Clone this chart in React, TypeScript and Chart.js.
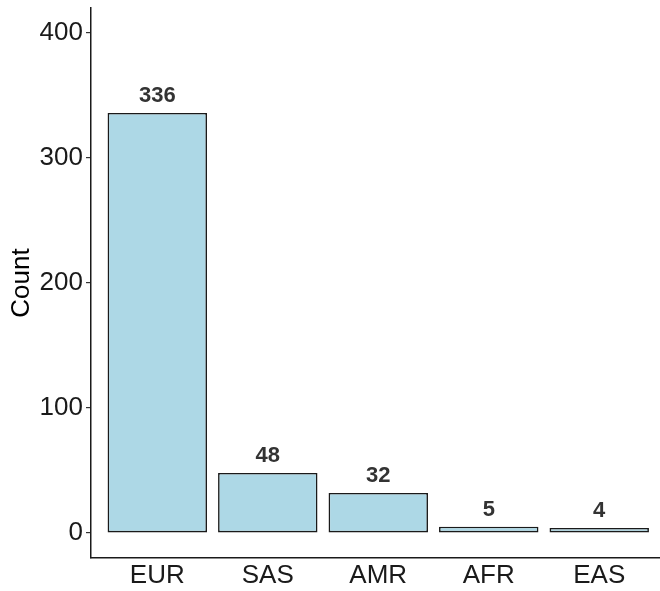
import React, { useEffect, useRef } from "react";
import { Chart, registerables } from "chart.js";

Chart.register(...registerables);

const categories = ["EUR", "SAS", "AMR", "AFR", "EAS"];
const counts = [336, 48, 32, 5, 4];
const yTicks = [0, 100, 200, 300, 400];

const FONT = "'Liberation Sans', Arial, sans-serif";

const labelPlugin = {
  id: "barLabels",
  afterDatasetsDraw(chart: any) {
    const ctx = chart.ctx;
    const meta = chart.getDatasetMeta(0);
    ctx.save();
    ctx.font = `bold 22px ${FONT}`;
    ctx.fillStyle = "#333333";
    ctx.textAlign = "center";
    ctx.textBaseline = "alphabetic";
    meta.data.forEach((el: any, i: number) => {
      ctx.fillText(String(counts[i]), el.x, el.y - 11);
    });
    ctx.restore();
  },
};

export default function App() {
  const ref = useRef<HTMLCanvasElement | null>(null);
  useEffect(() => {
    document.body.style.margin = "0";
    const chart = new Chart(ref.current!, {
      type: "bar",
      data: {
        datasets: [
          {
            data: counts.map((v, i) => ({ x: i, y: v })),
            backgroundColor: "#ADD8E6",
            borderColor: "#1a1a1a",
            borderWidth: 1.6,
            borderSkipped: false,
            categoryPercentage: 1,
            barPercentage: 0.9,
          },
        ],
      },
      options: {
        animation: false,
        responsive: true,
        maintainAspectRatio: false,
        layout: { padding: { top: 8, left: 0, right: 0, bottom: 0 } },
        plugins: { legend: { display: false }, tooltip: { enabled: false } },
        scales: {
          x: {
            type: "linear",
            offset: false,
            min: -0.6,
            max: 4.55,
            afterBuildTicks: (s: any) => {
              s.ticks = categories.map((_, i) => ({ value: i }));
            },
            afterFit: (s: any) => {
              s.height = 33;
              s.paddingLeft = 0;
              s.paddingRight = 0;
            },
            ticks: {
              callback: (v: any) => categories[Math.round(Number(v))] ?? "",
              color: "#1a1a1a",
              font: { family: FONT, size: 26 },
              padding: 2,
              maxRotation: 0,
              autoSkip: false,
            },
            grid: { drawOnChartArea: false, drawTicks: false, tickLength: 0 },
            border: { display: true, color: "#1a1a1a", width: 1.5 },
          },
          y: {
            min: -20,
            max: 420,
            afterBuildTicks: (s: any) => {
              s.ticks = yTicks.map((v) => ({ value: v }));
            },
            afterFit: (s: any) => {
              s.width = 91;
              s.paddingTop = 0;
              s.paddingBottom = 0;
            },
            ticks: {
              color: "#1a1a1a",
              font: { family: FONT, size: 26 },
              padding: 3,
            },
            grid: {
              drawOnChartArea: false,
              drawTicks: true,
              tickLength: 5,
              color: "#333333",
              lineWidth: 1.2,
            },
            border: { display: true, color: "#1a1a1a", width: 1.5 },
            title: {
              display: true,
              text: "Count",
              color: "#000000",
              font: { family: FONT, size: 26 },
              padding: { top: 6, bottom: 0 },
            },
          },
        },
      },
      plugins: [labelPlugin],
    });
    return () => chart.destroy();
  }, []);
  return (
    <div style={{ width: 660, height: 591, position: "relative" }}>
      <canvas ref={ref} />
    </div>
  );
}
